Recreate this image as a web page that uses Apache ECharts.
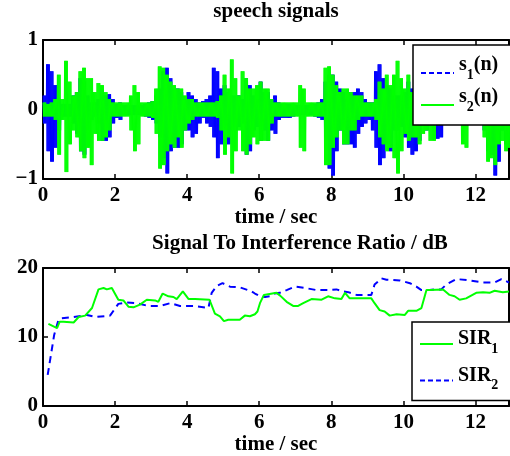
<!DOCTYPE html>
<html><head><meta charset="utf-8">
<script src="https://cdn.jsdelivr.net/npm/echarts@6/dist/echarts.min.js"></script>
<style>html,body{margin:0;padding:0;background:#fff}#c{width:510px;height:456px}</style>
</head><body><div id="c"></div>
<script>
// ---------- DATA ----------
// speech signals: per 0.1 s frame, upper and lower envelope of each waveform
const frameStep = 0.1;
const s1Hi = [0.2,0.65,0.55,0.35,0.15,0.08,0.08,0.08,0.2,0.25,
  0.45,0.4,0.2,0.1,0.1,0.15,0.3,0.2,0.22,0.15,
  0.08,0.1,0.06,0.06,0.06,0.06,0.06,0.06,0.08,0.1,
  0.12,0.2,0.3,0.55,0.6,0.45,0.3,0.3,0.25,0.15,
  0.25,0.2,0.15,0.1,0.12,0.15,0.2,0.6,0.55,0.3,
  0.35,0.25,0.2,0.2,0.2,0.15,0.45,0.35,0.2,0.15,
  0.4,0.25,0.25,0.15,0.2,0.1,0.08,0.08,0.08,0.06,
  0.06,0.06,0.06,0.06,0.06,0.08,0.1,0.15,0.4,0.5,
  0.5,0.4,0.3,0.25,0.15,0.25,0.25,0.3,0.25,0.15,
  0.1,0.1,0.55,0.65,0.45,0.35,0.3,0.2,0.2,0.2,
  0.25,0.4,0.3,0.2,0.2,0.15,0.2,0.1,0.15,0.3,
  0.3,0.1,0.08,0.08,0.08,0.08,0.1,0.1,0.08,0.08,
  0.08,0.1,0.2,0.4,0.45,0.6,0.4,0.2,0.35,0.3];
const s1Lo = [-0.2,-0.6,-0.75,-0.55,-0.3,-0.1,-0.1,-0.1,-0.2,-0.35,
  -0.6,-0.65,-0.3,-0.15,-0.1,-0.2,-0.45,-0.45,-0.4,-0.2,
  -0.12,-0.15,-0.08,-0.08,-0.08,-0.08,-0.08,-0.08,-0.1,-0.12,
  -0.15,-0.2,-0.4,-0.7,-0.92,-0.6,-0.55,-0.55,-0.5,-0.3,
  -0.3,-0.4,-0.35,-0.2,-0.12,-0.2,-0.25,-0.4,-0.7,-0.5,
  -0.45,-0.5,-0.3,-0.3,-0.25,-0.2,-0.65,-0.6,-0.3,-0.25,
  -0.45,-0.3,-0.45,-0.3,-0.35,-0.15,-0.12,-0.12,-0.12,-0.1,
  -0.08,-0.08,-0.08,-0.08,-0.08,-0.1,-0.12,-0.15,-0.4,-0.85,
  -0.95,-0.6,-0.3,-0.5,-0.5,-0.5,-0.55,-0.35,-0.25,-0.2,
  -0.15,-0.3,-0.55,-0.8,-0.7,-0.5,-0.6,-0.3,-0.3,-0.25,
  -0.4,-0.55,-0.65,-0.6,-0.45,-0.2,-0.3,-0.15,-0.2,-0.42,
  -0.4,-0.15,-0.1,-0.1,-0.1,-0.1,-0.12,-0.15,-0.1,-0.1,
  -0.1,-0.12,-0.3,-0.6,-0.65,-0.95,-0.75,-0.3,-0.5,-0.4];
const s2Hi = [0.1,0.08,0.1,0.15,0.5,0.15,0.7,0.4,0.2,0.25,
  0.55,0.6,0.45,0.45,0.25,0.38,0.35,0.25,0.15,0.1,
  0.1,0.1,0.1,0.1,0.2,0.35,0.25,0.1,0.1,0.1,
  0.12,0.3,0.62,0.6,0.5,0.4,0.35,0.3,0.3,0.2,
  0.15,0.15,0.1,0.1,0.1,0.1,0.1,0.1,0.12,0.2,
  0.5,0.3,0.72,0.45,0.2,0.55,0.45,0.3,0.3,0.35,
  0.4,0.3,0.3,0.15,0.1,0.1,0.1,0.1,0.1,0.1,
  0.1,0.35,0.3,0.1,0.1,0.1,0.1,0.1,0.6,0.62,
  0.5,0.35,0.25,0.3,0.3,0.25,0.2,0.2,0.2,0.1,
  0.1,0.1,0.15,0.4,0.3,0.5,0.35,0.5,0.7,0.45,
  0.3,0.5,0.25,0.2,0.3,0.25,0.2,0.3,0.3,0.15,
  0.1,0.1,0.1,0.1,0.1,0.1,0.3,0.3,0.1,0.1,
  0.1,0.1,0.25,0.5,0.5,0.45,0.3,0.3,0.35,0.3];
const s2Lo = [-0.1,-0.1,-0.1,-0.15,-0.65,-0.15,-0.9,-0.5,-0.3,-0.4,
  -0.6,-0.7,-0.55,-0.8,-0.35,-0.45,-0.45,-0.4,-0.3,-0.1,
  -0.1,-0.1,-0.1,-0.1,-0.3,-0.6,-0.5,-0.1,-0.1,-0.1,
  -0.12,-0.35,-0.85,-0.8,-0.6,-0.5,-0.55,-0.4,-0.55,-0.3,
  -0.2,-0.15,-0.1,-0.1,-0.1,-0.1,-0.1,-0.1,-0.12,-0.3,
  -0.65,-0.4,-0.92,-0.6,-0.3,-0.6,-0.65,-0.5,-0.4,-0.5,
  -0.45,-0.45,-0.45,-0.2,-0.1,-0.1,-0.1,-0.1,-0.1,-0.1,
  -0.1,-0.55,-0.6,-0.1,-0.1,-0.1,-0.1,-0.1,-0.8,-0.8,
  -0.55,-0.4,-0.3,-0.5,-0.5,-0.3,-0.3,-0.15,-0.1,-0.1,
  -0.1,-0.1,-0.15,-0.4,-0.5,-0.6,-0.55,-0.7,-0.92,-0.6,
  -0.35,-0.45,-0.4,-0.4,-0.5,-0.35,-0.3,-0.45,-0.45,-0.15,
  -0.1,-0.1,-0.1,-0.1,-0.1,-0.1,-0.5,-0.55,-0.1,-0.1,
  -0.1,-0.1,-0.4,-0.75,-0.7,-0.8,-0.5,-0.45,-0.6,-0.55];

// Signal to interference ratio (dB)
const sir1Time = [0.15,0.39,0.46,0.57,0.85,0.99,1.17,1.36,1.54,1.68,1.77,1.91,2.09,2.23,2.37,2.51,2.69,2.88,3.11,3.2,3.32,3.48,3.62,3.71,3.88,4.04,4.22,4.62,4.77,4.91,5.02,5.14,5.46,5.6,5.74,5.88,5.95,6.02,6.13,6.48,6.58,6.76,6.94,7.08,7.22,7.45,7.73,7.91,8.1,8.28,8.38,8.51,8.79,9.11,9.2,9.34,9.48,9.62,9.81,10.04,10.13,10.36,10.5,10.64,10.73,11.1,11.28,11.42,11.56,11.74,12.02,12.21,12.39,12.53,12.76,12.93];
const sir1 = [11.9,11.3,12.2,12.2,12.1,12.9,13.1,14.2,16.9,17.1,16.9,17.1,15.4,15.3,14.4,14.3,14.7,15.4,15.3,15.1,16.3,15.9,15.8,15.5,16.6,15.5,15.5,15.4,13.4,13.0,12.3,12.5,12.5,13.1,13.0,13.3,13.7,14.9,16.1,16.4,16.0,15.1,14.5,14.5,14.9,15.5,15.4,15.9,15.6,15.5,16.4,15.6,15.6,15.6,14.9,13.9,13.7,13.1,13.3,13.2,13.8,13.8,14.2,16.8,16.8,16.9,16.1,15.9,15.4,15.6,16.4,16.5,16.4,16.7,16.5,16.6];
const sir2Time = [0.13,0.22,0.31,0.43,0.52,0.85,1.22,1.45,1.86,2.09,2.32,2.6,2.92,3.25,3.53,3.8,4.17,4.59,4.68,4.82,4.98,5.19,5.46,5.79,5.88,6.02,6.16,6.29,6.43,6.57,6.76,6.99,7.27,7.59,7.91,8.14,8.33,8.47,8.7,8.93,9.11,9.2,9.39,9.53,9.9,10.18,10.36,10.5,10.73,10.87,11.05,11.19,11.47,11.84,12.21,12.53,12.72,12.93];
const sir2 = [4.5,7.4,10.3,12.5,12.7,12.9,13.2,12.9,13.1,14.8,15.0,14.9,14.5,14.5,14.9,14.5,14.5,14.2,16.4,17.4,17.8,17.3,17.2,16.6,16.3,15.9,15.8,15.9,16.3,16.4,16.8,17.3,17.1,16.8,16.8,16.9,16.6,16.5,16.1,16.1,16.1,17.6,18.5,18.3,18.2,17.8,17.3,16.8,16.8,16.9,16.9,17.6,18.4,18.2,17.9,17.9,18.4,17.9];

const xTicks = [0,2,4,6,8,10,12];
const speechTicks = [-1,0,1];
const sirTicks = [0,10,20];

// ---------- BUILD ----------
const FONT = '"Liberation Serif","Times New Roman",serif';
const BLUE = '#0000ff', GREEN = '#00ff00';
const timeMax = 12.93;
const swingsPerFrame = 4;   // drawing density of the oscillating trace within a frame

function envelopeLine(hi, lo) {
  const pts = [];
  const n = swingsPerFrame * 2;
  for (let i = 0; i < hi.length; i++) {
    const t = i * frameStep;
    for (let k = 0; k < n; k++) {
      pts.push([t + k * frameStep / n, k % 2 === 0 ? hi[i] : lo[i]]);
    }
  }
  return pts;
}
function pairs(ts, vs) { return ts.map((t, i) => [t, vs[i]]); }

const lbl = {fontFamily: FONT, fontWeight: 'bold', fontSize: 21, color: '#000'};
const axLine = {show: true, onZero: false, lineStyle: {color: '#000', width: 2}};
const axTick = {show: true, inside: true, length: 5, lineStyle: {color: '#000', width: 1.5}};

function xAxisFor(grid, position, labels, nameGap) {
  return {
    type: 'value', gridIndex: grid, position: position,
    min: 0, max: timeMax, interval: 2,
    axisLine: axLine, axisTick: axTick, splitLine: {show: false},
    axisLabel: labels ? Object.assign({margin: 6, showMaxLabel: false,
      formatter: v => xTicks.indexOf(v) >= 0 ? String(v) : ''}, lbl) : {show: false},
    name: labels ? 'time / sec' : '', nameLocation: 'middle', nameGap: nameGap,
    nameTextStyle: Object.assign({}, lbl)
  };
}
function yAxisFor(grid, position, labels, mn, mx, iv, ticks) {
  return {
    type: 'value', gridIndex: grid, position: position,
    min: mn, max: mx, interval: iv,
    axisLine: axLine, axisTick: axTick, splitLine: {show: false},
    axisLabel: labels ? Object.assign({margin: 5,
      formatter: v => ticks.indexOf(v) >= 0 ? String(v).replace('-', '\u2212') : ''}, lbl) : {show: false}
  };
}

function legendFmt(name) {
  if (name === 's1(n)') return '{m|s}{b|1}{m|(n)}';
  if (name === 's2(n)') return '{m|s}{b|2}{m|(n)}';
  if (name === 'SIR1') return '{m|SIR}{b|1}';
  if (name === 'SIR2') return '{m|SIR}{b|2}';
  return name;
}
function legendRich(lift) {
  return {
    padding: [-lift, 0, lift, 0],
    rich: {
      m: {fontFamily: FONT, fontWeight: 'bold', fontSize: 20, color: '#000', lineHeight: 20},
      b: {fontFamily: FONT, fontWeight: 'bold', fontSize: 14, color: '#000', lineHeight: 14, padding: [20, 0, 0, 0]}
    }
  };
}
const noMarker = {color: 'rgba(0,0,0,0)', borderWidth: 0, opacity: 0};

const option = {
  animation: false,
  backgroundColor: '#fff',
  title: [
    {text: 'speech signals', left: 276, top: 1, textAlign: 'center', padding: 0,
     textStyle: Object.assign({}, lbl)},
    {text: 'Signal To Interference Ratio / dB', left: 300, top: 233, textAlign: 'center', padding: 0,
     textStyle: Object.assign({}, lbl)}
  ],
  grid: [
    {left: 43, top: 40, width: 466, height: 139},
    {left: 43, top: 268, width: 466, height: 138}
  ],
  xAxis: [
    xAxisFor(0, 'bottom', true, 28), xAxisFor(0, 'top', false, 0),
    xAxisFor(1, 'bottom', true, 26), xAxisFor(1, 'top', false, 0)
  ],
  yAxis: [
    yAxisFor(0, 'left', true, -1, 1, 1, speechTicks), yAxisFor(0, 'right', false, -1, 1, 1, speechTicks),
    yAxisFor(1, 'left', true, 0, 20, 10, sirTicks), yAxisFor(1, 'right', false, 0, 20, 10, sirTicks)
  ],
  legend: [
    {
      data: [{name: 's1(n)', lineStyle: {type: [5, 3], width: 2}, itemStyle: noMarker},
             {name: 's2(n)', lineStyle: {width: 2}, itemStyle: noMarker}],
      orient: 'vertical', left: 413, top: 45, padding: [3, 14, 11, 7], itemGap: -2,
      itemWidth: 33, itemHeight: 12, selectedMode: false,
      backgroundColor: '#fff', borderColor: '#000', borderWidth: 1.5,
      formatter: legendFmt,
      textStyle: legendRich(8)
    },
    {
      data: [{name: 'SIR1', lineStyle: {width: 2}, itemStyle: noMarker},
             {name: 'SIR2', lineStyle: {type: [5, 3], width: 2}, itemStyle: noMarker}],
      orient: 'vertical', left: 412, top: 322, padding: [0, 14, 8, 7], itemGap: 2.6,
      itemWidth: 33, itemHeight: 12, selectedMode: false,
      backgroundColor: '#fff', borderColor: '#000', borderWidth: 1.5,
      formatter: legendFmt,
      textStyle: legendRich(5)
    }
  ],
  series: [
    {name: 's1(n)', type: 'line', xAxisIndex: 0, yAxisIndex: 0, data: envelopeLine(s1Hi, s1Lo),
     showSymbol: false, symbol: 'none', silent: true, z: 2,
     lineStyle: {color: BLUE, width: 1}, itemStyle: {color: BLUE}},
    {name: 's2(n)', type: 'line', xAxisIndex: 0, yAxisIndex: 0, data: envelopeLine(s2Hi, s2Lo),
     showSymbol: false, symbol: 'none', silent: true, z: 3,
     lineStyle: {color: GREEN, width: 1}, itemStyle: {color: GREEN}},
    {name: 'SIR2', type: 'line', xAxisIndex: 2, yAxisIndex: 2, data: pairs(sir2Time, sir2),
     showSymbol: false, symbol: 'none', silent: true, z: 2,
     lineStyle: {color: BLUE, width: 2, type: [7, 5]}, itemStyle: {color: BLUE}},
    {name: 'SIR1', type: 'line', xAxisIndex: 2, yAxisIndex: 2, data: pairs(sir1Time, sir1),
     showSymbol: false, symbol: 'none', silent: true, z: 3,
     lineStyle: {color: GREEN, width: 2}, itemStyle: {color: GREEN}}
  ]
};
const chart = echarts.init(document.getElementById('c'), null, {renderer: 'canvas'});
chart.setOption(option);
</script></body></html>
